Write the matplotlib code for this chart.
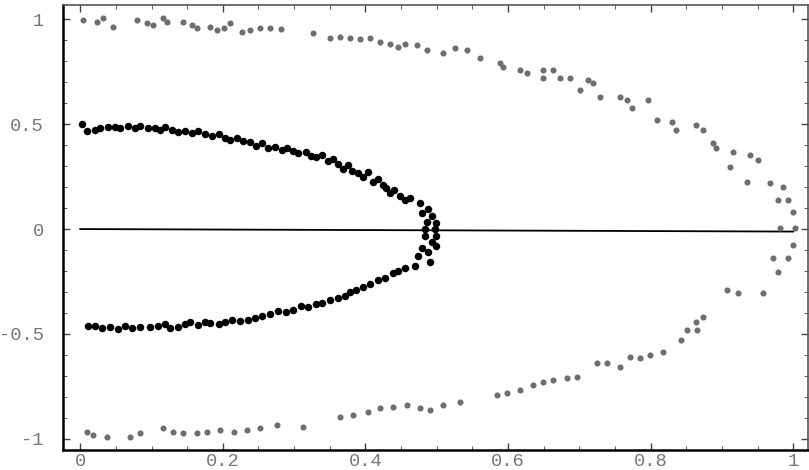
# Two half-rings of sample points with a reference line along y = 0.

import matplotlib
matplotlib.use("Agg")
import matplotlib.pyplot as plt
from matplotlib.ticker import MultipleLocator, FixedLocator

plt.rcParams["axes.unicode_minus"] = False

# inner ring (black points), upper then lower branch
inner_x = [0.003, 0.010, 0.021, 0.028, 0.039, 0.049, 0.056, 0.067, 0.077, 0.084,
           0.095, 0.105, 0.112, 0.119, 0.129, 0.137, 0.147, 0.157, 0.165, 0.175,
           0.185, 0.194, 0.203, 0.210, 0.220, 0.229, 0.238, 0.247, 0.255, 0.264,
           0.273, 0.283, 0.290, 0.299, 0.306, 0.316, 0.323, 0.331, 0.339, 0.348,
           0.355, 0.362, 0.369, 0.376, 0.381, 0.390, 0.396, 0.403, 0.410, 0.417,
           0.424, 0.429, 0.435, 0.440, 0.449, 0.456, 0.463, 0.477, 0.488, 0.480,
           0.494, 0.487, 0.499, 0.484, 0.498,
           0.484, 0.499, 0.494, 0.480, 0.499, 0.488, 0.474, 0.491, 0.470, 0.456,
           0.446, 0.438, 0.428, 0.418, 0.407, 0.396, 0.387, 0.379, 0.372, 0.362,
           0.351, 0.339, 0.330, 0.320, 0.309, 0.299, 0.288, 0.278, 0.266, 0.255,
           0.245, 0.236, 0.224, 0.213, 0.203, 0.194, 0.182, 0.175, 0.165, 0.154,
           0.147, 0.137, 0.126, 0.119, 0.109, 0.098, 0.084, 0.073, 0.063, 0.053,
           0.042, 0.031, 0.021, 0.011]
inner_y = [0.500, 0.467, 0.471, 0.481, 0.486, 0.486, 0.481, 0.490, 0.481, 0.490,
           0.481, 0.481, 0.471, 0.486, 0.471, 0.462, 0.467, 0.457, 0.467, 0.452,
           0.443, 0.452, 0.433, 0.424, 0.433, 0.419, 0.414, 0.395, 0.410, 0.386,
           0.390, 0.376, 0.386, 0.371, 0.362, 0.367, 0.348, 0.343, 0.352, 0.324,
           0.333, 0.310, 0.286, 0.305, 0.276, 0.267, 0.248, 0.271, 0.224, 0.238,
           0.210, 0.195, 0.171, 0.186, 0.157, 0.138, 0.148, 0.124, 0.095, 0.076,
           0.062, 0.033, 0.029, 0.000, 0.000,
           -0.033, -0.033, -0.062, -0.090, -0.081, -0.110, -0.129, -0.157, -0.176, -0.186,
           -0.200, -0.210, -0.233, -0.243, -0.262, -0.276, -0.290, -0.300, -0.319, -0.329,
           -0.338, -0.352, -0.357, -0.371, -0.367, -0.386, -0.395, -0.390, -0.405, -0.414,
           -0.424, -0.433, -0.438, -0.433, -0.443, -0.452, -0.448, -0.443, -0.457, -0.443,
           -0.452, -0.467, -0.471, -0.452, -0.462, -0.467, -0.467, -0.471, -0.462, -0.476,
           -0.467, -0.471, -0.462, -0.462]

# outer ring (grey points), upper then lower branch
outer_x = [0.004, 0.024, 0.032, 0.046, 0.080, 0.094, 0.102, 0.116, 0.122, 0.144,
           0.157, 0.164, 0.182, 0.192, 0.201, 0.210, 0.227, 0.238, 0.252, 0.266,
           0.281, 0.327, 0.351, 0.365, 0.379, 0.393, 0.407, 0.421, 0.435, 0.446,
           0.456, 0.473, 0.487, 0.509, 0.526, 0.543, 0.561, 0.589, 0.593, 0.617,
           0.627, 0.649, 0.663, 0.649, 0.673, 0.687, 0.701, 0.712, 0.719, 0.729,
           0.757, 0.767, 0.774, 0.797, 0.809, 0.830, 0.835, 0.863, 0.874, 0.888,
           0.891, 0.916, 0.912, 0.940, 0.950, 0.935, 0.968, 0.985, 0.978, 0.992,
           1.000, 0.982, 1.003,
           1.000, 0.972, 0.992, 0.979, 0.907, 0.923, 0.957, 0.874, 0.863, 0.851,
           0.865, 0.842, 0.818, 0.799, 0.785, 0.771, 0.757, 0.739, 0.725, 0.697,
           0.683, 0.663, 0.649, 0.635, 0.617, 0.599, 0.585, 0.533, 0.509, 0.491,
           0.477, 0.459, 0.439, 0.421, 0.403, 0.383, 0.365, 0.313, 0.276, 0.252,
           0.234, 0.215, 0.196, 0.178, 0.164, 0.144, 0.130, 0.116, 0.084, 0.070,
           0.038, 0.018, 0.010]
outer_y = [0.995, 0.986, 1.005, 0.962, 0.995, 0.981, 0.971, 1.005, 0.986, 0.986,
           0.971, 0.957, 0.962, 0.948, 0.957, 0.981, 0.938, 0.948, 0.957, 0.957,
           0.952, 0.933, 0.910, 0.914, 0.910, 0.905, 0.910, 0.890, 0.881, 0.867,
           0.881, 0.876, 0.852, 0.838, 0.862, 0.852, 0.814, 0.790, 0.771, 0.757,
           0.743, 0.757, 0.757, 0.719, 0.719, 0.719, 0.662, 0.710, 0.695, 0.629,
           0.629, 0.614, 0.576, 0.614, 0.519, 0.510, 0.471, 0.495, 0.471, 0.410,
           0.386, 0.367, 0.295, 0.352, 0.329, 0.224, 0.219, 0.200, 0.138, 0.138,
           0.081, 0.005, 0.005,
           -0.076, -0.138, -0.138, -0.205, -0.290, -0.305, -0.305, -0.419, -0.443, -0.481,
           -0.481, -0.529, -0.586, -0.600, -0.614, -0.610, -0.657, -0.638, -0.638, -0.705,
           -0.710, -0.719, -0.729, -0.743, -0.767, -0.781, -0.790, -0.824, -0.838, -0.862,
           -0.852, -0.838, -0.848, -0.852, -0.871, -0.886, -0.895, -0.943, -0.933, -0.948,
           -0.957, -0.967, -0.957, -0.967, -0.971, -0.971, -0.967, -0.948, -0.971, -0.990,
           -0.990, -0.981, -0.967]

# reference line along the x axis
line_x = [0.0, 1.0]
line_y = [0.0, -0.012]

x_ticks = [0, 0.2, 0.4, 0.6, 0.8, 1]
x_labels = ["0", "0.2", "0.4", "0.6", "0.8", "1"]
y_ticks = [-1, -0.5, 0, 0.5, 1]
y_labels = ["-1", "-0.5", "0", "0.5", "1"]

fig = plt.figure(figsize=(8.09, 4.70), dpi=100)
ax = fig.add_axes([0.078, 0.043, 0.921, 0.946])

ax.plot(line_x, line_y, color="black", linewidth=1.3, zorder=1)
ax.plot(outer_x, outer_y, linestyle="none", marker="o", markersize=4.4,
        color="#6e6e6e", markeredgewidth=0, zorder=2)
ax.plot(inner_x, inner_y, linestyle="none", marker="o", markersize=5.4,
        color="black", markeredgewidth=0, zorder=3)

ax.set_xlim(-0.024, 1.021)
ax.set_ylim(-1.052, 1.067)

ax.xaxis.set_major_locator(FixedLocator(x_ticks))
ax.set_xticklabels(x_labels)
ax.yaxis.set_major_locator(FixedLocator(y_ticks))
ax.set_yticklabels(y_labels)
ax.xaxis.set_minor_locator(MultipleLocator(0.05))
ax.yaxis.set_minor_locator(MultipleLocator(0.1))

ax.tick_params(which="both", direction="in", top=True, right=True,
               colors="#444444", labelcolor="#777777")
ax.tick_params(which="major", length=5, width=1)
ax.tick_params(which="minor", length=3, width=0.6)
ax.tick_params(axis="y", which="major", pad=14)
ax.tick_params(axis="x", which="major", pad=2)
for lab in ax.get_xticklabels() + ax.get_yticklabels():
    lab.set_family("Liberation Mono")
    lab.set_fontsize(13.5)

ax.spines["left"].set_linewidth(1.8)
ax.spines["bottom"].set_linewidth(1.8)
ax.spines["top"].set_linewidth(1.2)
ax.spines["right"].set_linewidth(1.2)
ax.spines["top"].set_color("#555555")
ax.spines["right"].set_color("#555555")

fig.savefig("out.png", dpi=100)
